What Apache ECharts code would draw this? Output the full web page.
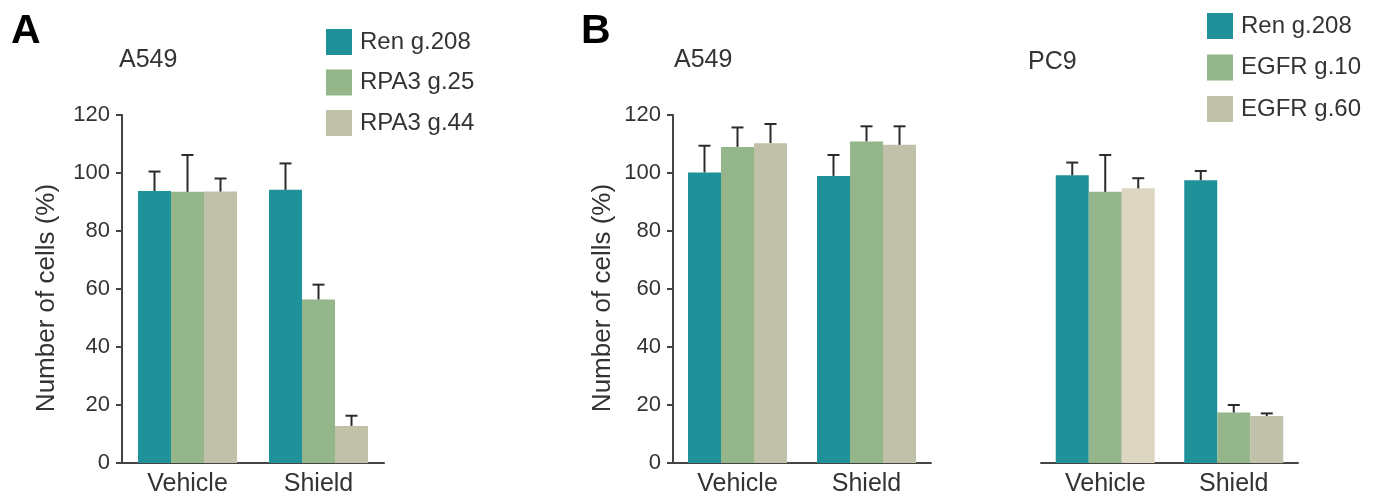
<!DOCTYPE html>
<html>
<head>
<meta charset="utf-8">
<script src="https://cdn.jsdelivr.net/npm/echarts@6/dist/echarts.min.js"></script>
<style>
  html, body { margin: 0; padding: 0; background: #fff; }
  #chart { width: 1378px; height: 500px; }
</style>
</head>
<body>
<div id="chart"></div>
<script>
// shared
const categories = ["Vehicle", "Shield"];
const yMax = 120;
const yStep = 20;

// panel A - A549, RPA3 guides
const namesA = ["Ren g.208", "RPA3 g.25", "RPA3 g.44"];
const renA = [93.8, 94.2];
const rpa25A = [93.5, 56.4];
const rpa44A = [93.6, 12.8];
const renAErr = [100.5, 103.3];
const rpa25AErr = [106.2, 61.5];
const rpa44AErr = [98.1, 16.3];

// panel B - A549, EGFR guides
const namesB = ["Ren g.208", "EGFR g.10", "EGFR g.60"];
const renB1 = [100.2, 99.0];
const egfr10B1 = [109.0, 110.9];
const egfr60B1 = [110.3, 109.7];
const renB1Err = [109.4, 106.2];
const egfr10B1Err = [115.7, 116.1];
const egfr60B1Err = [116.9, 116.1];

// panel B - PC9, EGFR guides
const renB2 = [99.2, 97.5];
const egfr10B2 = [93.5, 17.4];
const egfr60B2 = [94.7, 16.2];
const renB2Err = [103.6, 100.7];
const egfr10B2Err = [106.2, 20.0];
const egfr60B2Err = [98.2, 17.1];

const colors = ["#1f9199", "#94b68a", "#c1c0a8"];
const paleBeige = "#dcd6c2";   // PC9 vehicle bar of EGFR g.60 is lighter in the figure
const BAR_W = 33;
const CAP = 6;
const FONT = "Liberation Sans, Arial, sans-serif";
const TXT = "#333";
const AXIS = "#444";

let chart = echarts.init(document.getElementById("chart"));

function barSeries(gi, name, vals, color) {
  return {
    name: name,
    type: "bar",
    xAxisIndex: gi,
    yAxisIndex: gi,
    barWidth: BAR_W,
    barGap: "0%",
    itemStyle: { color: color },
    data: vals
  };
}

function errSeries(gi, k, vals, tops) {
  return {
    type: "custom",
    xAxisIndex: gi,
    yAxisIndex: gi,
    silent: true,
    z: 3,
    data: vals.map((v, i) => [i, v, tops[i]]),
    renderItem: function (params, api) {
      let base = api.coord([api.value(0), api.value(1)]);
      let top = api.coord([api.value(0), api.value(2)]);
      let x = base[0] + (k - 1) * BAR_W;
      let st = { stroke: "#2b2b2b", lineWidth: 2 };
      return {
        type: "group",
        children: [
          { type: "line", shape: { x1: x, y1: base[1], x2: x, y2: top[1] }, style: st },
          { type: "line", shape: { x1: x - CAP, y1: top[1], x2: x + CAP, y2: top[1] }, style: st }
        ]
      };
    }
  };
}

function xAx(gi) {
  return {
    type: "category",
    gridIndex: gi,
    data: categories,
    axisTick: { show: false },
    axisLine: { lineStyle: { color: AXIS, width: 2 } },
    axisLabel: { fontSize: 25, color: TXT, fontFamily: FONT, margin: 9 }
  };
}

function yAx(gi, showAxis, gap) {
  return {
    type: "value",
    gridIndex: gi,
    min: 0,
    max: yMax,
    interval: yStep,
    name: showAxis ? "Number of cells (%)" : "",
    nameLocation: "middle",
    nameGap: gap,
    nameTextStyle: { fontSize: 26, color: TXT, fontFamily: FONT, padding: [0, 18, 0, 0] },
    splitLine: { show: false },
    axisLine: { show: showAxis, lineStyle: { color: AXIS, width: 2 } },
    axisTick: { show: showAxis, length: 6, lineStyle: { color: AXIS, width: 2 } },
    axisLabel: { show: showAxis, fontSize: 22, color: TXT, fontFamily: FONT, margin: 12 }
  };
}

let pc9Beige = egfr60B2.map((v, i) => i === 0 ? { value: v, itemStyle: { color: paleBeige } } : v);

chart.setOption({
  animation: false,
  backgroundColor: "#fff",
  title: [
    { text: "A", left: 11, top: 11, padding: 0, textStyle: { fontSize: 41, fontWeight: "bold", color: "#000", fontFamily: FONT } },
    { text: "B", left: 581, top: 11, padding: 0, textStyle: { fontSize: 41, fontWeight: "bold", color: "#000", fontFamily: FONT } },
    { text: "A549", left: 119, top: 48, padding: 0, textStyle: { fontSize: 25, fontWeight: "normal", color: TXT, fontFamily: FONT } },
    { text: "A549", left: 674, top: 48, padding: 0, textStyle: { fontSize: 25, fontWeight: "normal", color: TXT, fontFamily: FONT } },
    { text: "PC9", left: 1028, top: 50, padding: 0, textStyle: { fontSize: 25, fontWeight: "normal", color: TXT, fontFamily: FONT } }
  ],
  legend: [
    {
      data: namesA, orient: "vertical", left: 326, top: 29, padding: 0,
      itemWidth: 26, itemHeight: 26, itemGap: 14.5, icon: "rect",
      textStyle: { fontSize: 24, color: TXT, fontFamily: FONT, padding: [0, 0, 0, 3] }
    },
    {
      data: namesB, orient: "vertical", left: 1207, top: 13, padding: 0,
      itemWidth: 26, itemHeight: 26, itemGap: 15.5, icon: "rect",
      textStyle: { fontSize: 24, color: TXT, fontFamily: FONT, padding: [0, 0, 0, 3] }
    }
  ],
  grid: [
    { left: 122, top: 115, width: 262, height: 348 },
    { left: 673, top: 115, width: 258, height: 348 },
    { left: 1041, top: 115, width: 257, height: 348 }
  ],
  xAxis: [xAx(0), xAx(1), xAx(2)],
  yAxis: [yAx(0, true, 62), yAx(1, true, 57), yAx(2, false, 0)],
  series: [
    barSeries(0, namesA[0], renA, colors[0]),
    barSeries(0, namesA[1], rpa25A, colors[1]),
    barSeries(0, namesA[2], rpa44A, colors[2]),
    errSeries(0, 0, renA, renAErr),
    errSeries(0, 1, rpa25A, rpa25AErr),
    errSeries(0, 2, rpa44A, rpa44AErr),

    barSeries(1, namesB[0], renB1, colors[0]),
    barSeries(1, namesB[1], egfr10B1, colors[1]),
    barSeries(1, namesB[2], egfr60B1, colors[2]),
    errSeries(1, 0, renB1, renB1Err),
    errSeries(1, 1, egfr10B1, egfr10B1Err),
    errSeries(1, 2, egfr60B1, egfr60B1Err),

    barSeries(2, namesB[0], renB2, colors[0]),
    barSeries(2, namesB[1], egfr10B2, colors[1]),
    barSeries(2, namesB[2], pc9Beige, colors[2]),
    errSeries(2, 0, renB2, renB2Err),
    errSeries(2, 1, egfr10B2, egfr10B2Err),
    errSeries(2, 2, egfr60B2, egfr60B2Err)
  ]
});
</script>
</body>
</html>
